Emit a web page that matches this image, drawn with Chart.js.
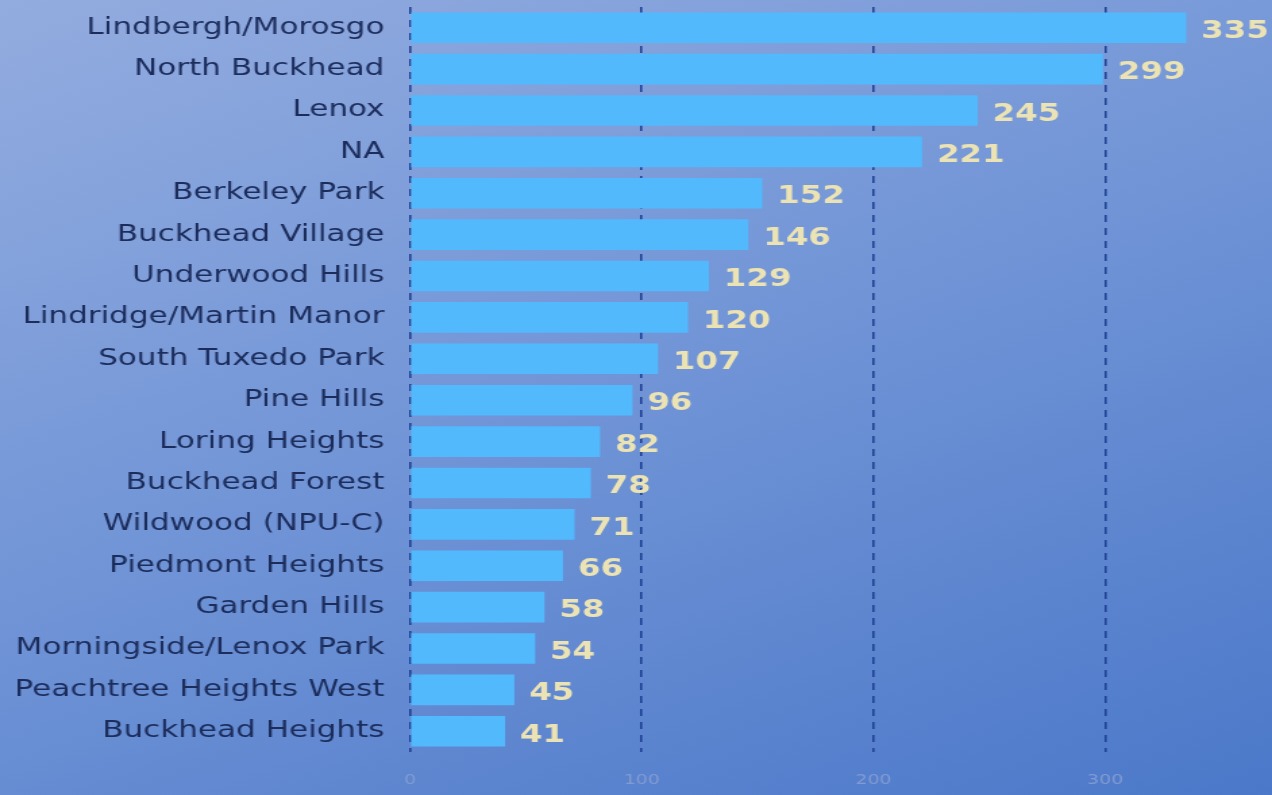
<!DOCTYPE html>
<html>
<head>
<meta charset="utf-8">
<script src="https://cdn.jsdelivr.net/npm/chart.js@4/dist/chart.umd.min.js"></script>
<style>
    html, body { margin: 0; padding: 0; overflow: hidden; }
    body {
        width: 1272px; height: 795px;
        background: linear-gradient(160deg, #93acdf 0%, #7396d7 45%, #4b78c9 100%);
    }
    /* the picture is stretched sideways, so the canvas is drawn narrow and widened */
    #wrap { width: 942px; height: 795px; transform: scaleX(1.3503); transform-origin: 0 0; }
</style>
</head>
<body>
<div id="wrap"><canvas id="hoodChart" width="942" height="795"></canvas></div>
<script>
const neighborhoods = [
    'Lindbergh/Morosgo', 'North Buckhead', 'Lenox', 'NA', 'Berkeley Park',
    'Buckhead Village', 'Underwood Hills', 'Lindridge/Martin Manor', 'South Tuxedo Park',
    'Pine Hills', 'Loring Heights', 'Buckhead Forest', 'Wildwood (NPU-C)',
    'Piedmont Heights', 'Garden Hills', 'Morningside/Lenox Park',
    'Peachtree Heights West', 'Buckhead Heights'
];
const counts = [335, 299, 245, 221, 152, 146, 129, 120, 107, 96, 82, 78, 71, 66, 58, 54, 45, 41];
const xTicks = [0, 100, 200, 300];

// Plugin to write the value next to each bar
const valueLabels = {
    id: 'valueLabels',
    afterDatasetsDraw(chart) {
        const ctx = chart.ctx;
        const meta = chart.getDatasetMeta(0);
        ctx.save();
        ctx.font = 'bold 24px "DejaVu Sans"';
        ctx.fillStyle = '#ece3b4';
        ctx.textAlign = 'left';
        ctx.textBaseline = 'middle';
        meta.data.forEach((bar, i) => {
            ctx.fillText(String(counts[i]), bar.x + 11, bar.y + 4);
        });
        ctx.restore();
    }
};

new Chart(document.getElementById('hoodChart').getContext('2d'), {
    type: 'bar',
    data: {
        labels: neighborhoods,
        datasets: [{
            data: counts,
            backgroundColor: '#52b9fd',
            borderWidth: 0,
            categoryPercentage: 1,
            barPercentage: 0.74
        }]
    },
    options: {
        indexAxis: 'y',
        responsive: false,
        animation: false,
        devicePixelRatio: 1,
        layout: { padding: { top: 7, right: 0, left: 0, bottom: 0 } },
        plugins: {
            legend: { display: false },
            tooltip: { enabled: false }
        },
        scales: {
            x: {
                min: 0,
                max: 372,
                afterFit: (scale) => { scale.height = 43; },
                afterBuildTicks: (scale) => { scale.ticks = xTicks.map(v => ({ value: v })); },
                grid: {
                    color: '#1f4194', // dark blue dashed guides
                    lineWidth: 1.6,
                    drawTicks: false
                },
                border: { display: false, dash: [7, 6] },
                ticks: {
                    color: '#839bd2',
                    font: { family: 'DejaVu Sans', size: 14 },
                    padding: 20
                }
            },
            y: {
                afterFit: (scale) => {
                    scale.width = 303.7;
                    scale.paddingTop = 0;
                    scale.paddingBottom = 0;
                },
                grid: { display: false, drawTicks: false },
                border: { display: false },
                ticks: {
                    color: '#1c2d5c',
                    font: { family: 'DejaVu Sans', size: 23 },
                    padding: 19
                }
            }
        }
    },
    plugins: [valueLabels]
});
</script>
</body>
</html>
